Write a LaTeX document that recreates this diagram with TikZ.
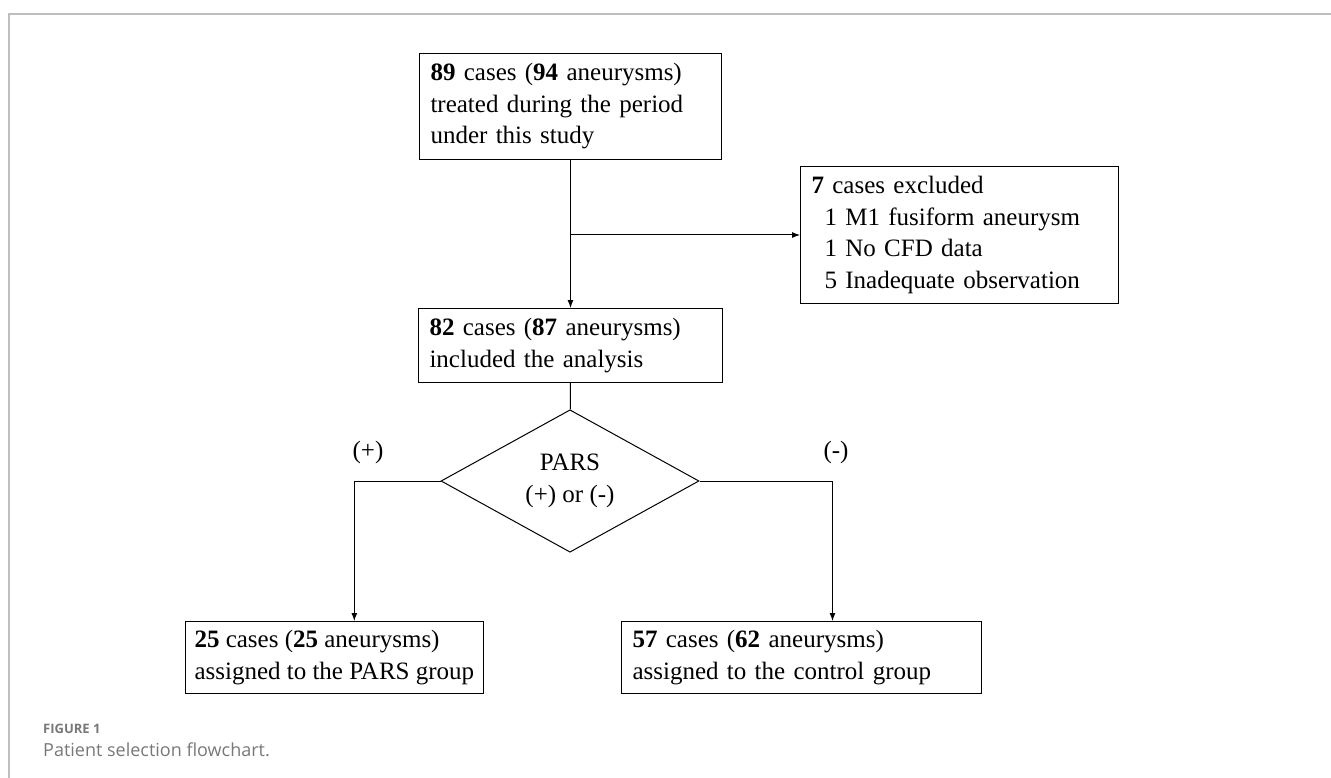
\documentclass[tikz,border=0pt]{standalone}
\usepackage{fontspec}
\setmainfont{Liberation Serif}
\newfontfamily\capfont{Open Sans}
\usetikzlibrary{shapes.geometric,arrows.meta}
\definecolor{framegray}{RGB}{190,190,190}
\definecolor{capgray}{RGB}{120,120,120}
\begin{document}
\begin{tikzpicture}[x=1pt,y=-1pt,
  flowbox/.style={draw,line width=1pt,align=left,anchor=north west,inner xsep=11pt,inner ysep=0pt,
    font=\fontsize{25}{31.5}\selectfont},
  decide/.style={draw,diamond,line width=1pt,inner sep=0pt,align=center,
    minimum width=258pt,minimum height=104pt,font=\fontsize{25}{31.5}\selectfont},
  sign/.style={font=\fontsize{25}{31.5}\selectfont,inner sep=0pt}]
 \useasboundingbox (0,0) rectangle (1331,778);
 \draw[framegray,line width=2pt] (1331,14)--(9,14)--(9,778); %枠
 % boxes
 \node[flowbox,minimum width=302pt,minimum height=106pt,text width=280pt] (total) at (419,53)
   {\textbf{89} cases (\textbf{94} aneurysms)\\treated during the period\\under this study};
 \node[flowbox,minimum width=318pt,minimum height=137pt,text width=296pt] (excl) at (800,166)
   {\textbf{7} cases excluded\\\hspace{13pt}1 M1 fusiform aneurysm\\\hspace{13pt}1 No CFD data\\\hspace{13pt}5 Inadequate observation};
 \node[flowbox,minimum width=304pt,minimum height=74pt,text width=282pt] (incl) at (418,308)
   {\textbf{82} cases (\textbf{87} aneurysms)\\included the analysis};
 \node[decide] (pars) at (570,481) {PARS\\(+) or (-)};
 \node[flowbox,inner xsep=9pt,minimum height=72pt] (pos) at (185,621)
   {\textbf{25} cases (\textbf{25} aneurysms)\\assigned to the PARS group};
 \node[flowbox,minimum width=360pt,minimum height=72pt,text width=338pt] (neg) at (621,621)
   {\textbf{57} cases (\textbf{62} aneurysms)\\assigned to the control group};
 \node[sign] (plus) at (368,452) {(+)};
 \node[sign] (minus) at (836,452) {(-)};
 % connectors
 \coordinate (split) at (total.south |- excl.west);
 \draw[->,>={Latex[length=8pt,width=6pt]},line width=1pt] (total)--(incl);
 \draw[->,>={Latex[length=8pt,width=6pt]},line width=1pt] (split)--(excl.west);
 \draw[line width=1pt] (incl)--(pars);
 \draw[->,>={Latex[length=8pt,width=6pt]},line width=1pt] (pars.west)-|([xshift=20pt]pos.north);
 \draw[->,>={Latex[length=8pt,width=6pt]},line width=1pt] (pars.east)-|([xshift=31pt]neg.north);
 % caption
 \node[anchor=base west,inner sep=0pt,text=capgray,font=\capfont\bfseries\fontsize{13}{15}\selectfont] (figno) at (43,733) {FIGURE 1};
 \node[anchor=base west,inner sep=0pt,text=capgray,font=\capfont\fontsize{18}{20}\selectfont] (figcap) at (43,756) {Patient selection flowchart.};
\end{tikzpicture}
\end{document}
